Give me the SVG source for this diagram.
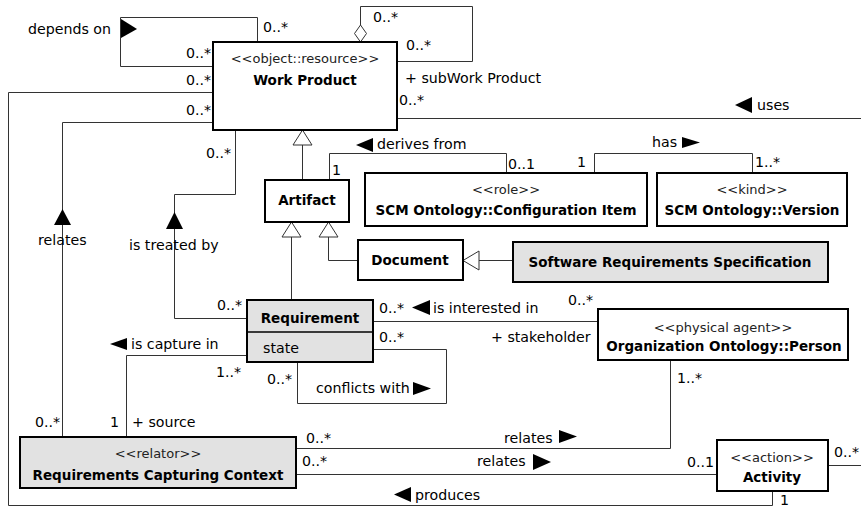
<svg xmlns="http://www.w3.org/2000/svg" width="861" height="507" viewBox="0 0 861 507">
<style>
.box{fill:#fff;stroke:#000;stroke-width:2}
.gbox{fill:#e2e2e2;stroke:#000;stroke-width:2}
.ln{fill:none;stroke:#333;stroke-width:1}
.hd{fill:#fff;stroke:#333;stroke-width:1}
.ar{fill:#000}
text{font-family:"DejaVu Sans",sans-serif;font-size:14.2px;fill:#000}
.b{font-weight:bold;font-size:13.5px}
.st{font-size:13px;fill:#222}
.m{text-anchor:middle}
</style>
<rect width="861" height="507" fill="#fff"/>
<g id="connectors">
  <!-- depends on -->
  <path class="ln" d="M213,66.5 H120.5 V17.5 H257.5 V42"/>
  <polygon class="ar" points="121,19 137,29 121,38"/>
  <text x="28" y="34">depends on</text>
  <text x="263" y="32">0..*</text>
  <text x="186" y="58">0..*</text>
  <!-- aggregation -->
  <path class="ln" d="M360.5,25 V6.5 H472.5 V61.5 H397"/>
  <polygon class="hd" points="360.5,42 366.5,33.5 360.5,25 354.5,33.5"/>
  <text x="373" y="22">0..*</text>
  <text x="406" y="50">0..*</text>
  <text x="405" y="83">+ subWork Product</text>
  <!-- produces -->
  <path class="ln" d="M213,92.5 H8.5 V505.5 H772.5 V491"/>
  <polygon class="ar" points="394,494.5 411,487 411,502"/>
  <text x="415" y="500">produces</text>
  <text x="186" y="85">0..*</text>
  <text x="780" y="505">1</text>
  <!-- relates WP - RCC -->
  <path class="ln" d="M213,122.5 H62.5 V437"/>
  <polygon class="ar" points="62.5,209 54,225 71,225"/>
  <text x="38" y="245">relates</text>
  <text x="186" y="115">0..*</text>
  <text x="35" y="427">0..*</text>
  <!-- is treated by -->
  <path class="ln" d="M235.5,130 V194.5 H174.5 V318.5 H247"/>
  <polygon class="ar" points="174.5,212 166,229 183,229"/>
  <text x="129" y="250">is treated by</text>
  <text x="206" y="158">0..*</text>
  <text x="217" y="310">0..*</text>
  <!-- uses -->
  <path class="ln" d="M397,118.5 H861"/>
  <polygon class="ar" points="735,105 752,97 752,113"/>
  <text x="757" y="110">uses</text>
  <text x="399" y="105">0..*</text>
  <!-- generalizations -->
  <path class="ln" d="M302.5,145 V180"/>
  <polygon class="hd" points="302.5,130 293,145 312,145"/>
  <path class="ln" d="M291.5,237 V300"/>
  <polygon class="hd" points="291.5,222 282,237 301,237"/>
  <path class="ln" d="M328.5,237 V260.5 H358"/>
  <polygon class="hd" points="328.5,222 319,237 338,237"/>
  <path class="ln" d="M479,260.5 H513"/>
  <polygon class="hd" points="463,260.5 479,251 479,270"/>
  <!-- derives from -->
  <path class="ln" d="M329.5,180 V153.5 H506.5 V173"/>
  <polygon class="ar" points="356,145 373,138 373,152"/>
  <text x="377" y="149">derives from</text>
  <text x="332" y="175">1</text>
  <text x="508" y="169">0..1</text>
  <!-- has -->
  <path class="ln" d="M594.5,173 V153.5 H752.5 V173"/>
  <polygon class="ar" points="682,137 700,142.5 682,148"/>
  <text x="652" y="147">has</text>
  <text x="577" y="167">1</text>
  <text x="755" y="167">1..*</text>
  <!-- is interested in -->
  <path class="ln" d="M373,321.5 H598"/>
  <polygon class="ar" points="412,307.5 430,300 430,315"/>
  <text x="433" y="313">is interested in</text>
  <text x="379" y="313">0..*</text>
  <text x="568" y="305">0..*</text>
  <text x="491" y="342">+ stakeholder</text>
  <!-- is capture in -->
  <path class="ln" d="M247,355.5 H126.5 V437"/>
  <polygon class="ar" points="110,344 127,338 127,350"/>
  <text x="131" y="349">is capture in</text>
  <text x="216" y="377">1..*</text>
  <text x="110" y="427">1</text>
  <text x="132" y="427">+ source</text>
  <!-- conflicts with -->
  <path class="ln" d="M373,349.5 H446.5 V403.5 H297.5 V362"/>
  <polygon class="ar" points="413,382 431,388.5 413,395"/>
  <text x="316" y="393">conflicts with</text>
  <text x="379" y="342">0..*</text>
  <text x="267" y="384">0..*</text>
  <!-- Person - RCC relates -->
  <path class="ln" d="M670.5,360 V448.5 H296"/>
  <polygon class="ar" points="559,430 577,436.5 559,443"/>
  <text x="504" y="443">relates</text>
  <text x="677" y="383">1..*</text>
  <text x="306" y="443">0..*</text>
  <!-- RCC - Activity relates -->
  <path class="ln" d="M296,474.5 H717"/>
  <polygon class="ar" points="533,454 551,462 533,470"/>
  <text x="477" y="466">relates</text>
  <text x="302" y="466">0..*</text>
  <text x="687" y="467">0..1</text>
  <!-- Activity right -->
  <path class="ln" d="M828,465.5 H861"/>
  <text x="834" y="457">0..*</text>
</g>
<g id="work-product">
  <rect class="box" x="213" y="42" width="184" height="88"/>
  <text class="st m" x="305" y="63">&lt;&lt;object::resource&gt;&gt;</text>
  <text class="b m" x="305" y="85">Work Product</text>
</g>
<g id="artifact">
  <rect class="box" x="265" y="180" width="84" height="42"/>
  <text class="b m" x="307" y="205">Artifact</text>
</g>
<g id="configuration-item">
  <rect class="box" x="365" y="173" width="282" height="53"/>
  <text class="st m" x="506" y="194">&lt;&lt;role&gt;&gt;</text>
  <text class="b m" x="506" y="215">SCM Ontology::Configuration Item</text>
</g>
<g id="version">
  <rect class="box" x="657" y="173" width="190" height="53"/>
  <text class="st m" x="752" y="194">&lt;&lt;kind&gt;&gt;</text>
  <text class="b m" x="752" y="215">SCM Ontology::Version</text>
</g>
<g id="document">
  <rect class="box" x="358" y="240" width="105" height="40"/>
  <text class="b m" x="410" y="265">Document</text>
</g>
<g id="srs">
  <rect class="gbox" x="513" y="242" width="315" height="40"/>
  <text class="b m" x="670" y="267">Software Requirements Specification</text>
</g>
<g id="requirement">
  <rect class="gbox" x="247" y="300" width="126" height="62"/>
  <line x1="247" y1="332" x2="373" y2="332" stroke="#000" stroke-width="1.5"/>
  <text class="b m" x="310" y="323">Requirement</text>
  <text x="263" y="353">state</text>
</g>
<g id="person">
  <rect class="box" x="598" y="309" width="250" height="51"/>
  <text class="st m" x="723" y="332">&lt;&lt;physical agent&gt;&gt;</text>
  <text class="b m" x="724" y="351">Organization Ontology::Person</text>
</g>
<g id="rcc">
  <rect class="gbox" x="20" y="437" width="276" height="51"/>
  <text class="st m" x="158" y="458">&lt;&lt;relator&gt;&gt;</text>
  <text class="b m" x="158" y="480">Requirements Capturing Context</text>
</g>
<g id="activity">
  <rect class="box" x="717" y="440" width="111" height="51"/>
  <text class="st m" x="772" y="462">&lt;&lt;action&gt;&gt;</text>
  <text class="b m" x="772" y="482">Activity</text>
</g>
</svg>
